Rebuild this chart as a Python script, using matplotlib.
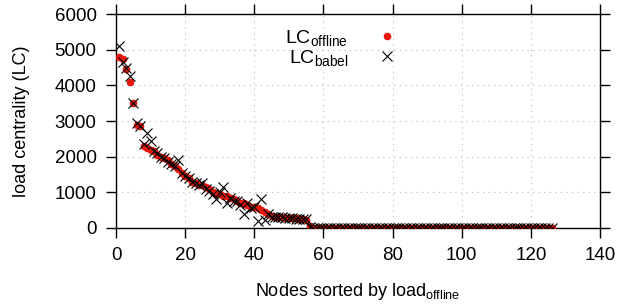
import numpy as np
import matplotlib
matplotlib.use("Agg")
import matplotlib.pyplot as plt

plt.rcParams['font.family'] = ['Liberation Sans', 'DejaVu Sans']
plt.rcParams['mathtext.fontset'] = 'custom'
plt.rcParams['mathtext.rm'] = 'Liberation Sans'
plt.rcParams['mathtext.it'] = 'Liberation Sans'

# load centrality of the nodes, sorted by offline load (nodes 1..126)
lc_offline_top = [4800, 4750, 4450, 4100, 3500, 2900, 2850, 2300, 2250, 2200,
                  2150, 2050, 2000, 1950, 1900, 1800, 1750, 1650, 1550, 1450,
                  1400, 1300, 1250, 1200, 1200, 1150, 1100, 1000, 950, 950,
                  900, 900, 850, 800, 750, 700, 700, 650, 600, 600,
                  550, 500, 450, 400, 350, 320, 310, 300, 290, 280,
                  270, 270, 260, 250, 230, 60]
lc_babel_top = [5100, 4650, 4500, 4250, 3500, 2950, 2850, 2350, 2650, 2450,
                2150, 2100, 2000, 1950, 1850, 1800, 1750, 1900, 1550, 1450,
                1400, 1300, 1250, 1200, 1250, 1100, 1050, 950, 800, 1000,
                1150, 700, 850, 750, 750, 650, 400, 700, 550, 600,
                200, 820, 220, 380, 300, 300, 300, 300, 280, 280,
                270, 260, 260, 250, 240, 40]
n_zero = 70

lc_offline = np.array(lc_offline_top + [0] * n_zero)
lc_babel = np.array(lc_babel_top + [0] * n_zero)
nodes = np.arange(1, len(lc_offline) + 1)

fig = plt.figure(figsize=(6.35, 3.05), dpi=100)
ax = fig.add_axes([0.1827, 0.2525, 0.7622, 0.7015])

ax.plot(nodes, lc_offline, 'o', color='#e8170b', markersize=5.5, markeredgewidth=0,
        label=r'LC$_{\mathrm{offline}}$', zorder=3)
ax.plot(nodes, lc_babel, 'x', color='black', markersize=7, markeredgewidth=0.8,
        label=r'LC$_{\mathrm{babel}}$', zorder=4)

ax.set_xlim(0, 140)
ax.set_ylim(0, 6000)
ax.set_xticks(range(0, 141, 20))
ax.set_yticks(range(0, 6001, 1000))
ax.tick_params(direction='out', length=7, width=1, labelsize=13.5,
               top=True, right=True, pad=7)
ax.grid(True, color='#b8b8b8', linestyle=(0, (1, 4)), linewidth=0.8)
for s in ax.spines.values():
    s.set_linewidth(1)

ax.set_xlabel(r'Nodes sorted by load$_{\mathrm{offline}}$', fontsize=13, labelpad=12)
ax.set_ylabel('load centrality (LC)', fontsize=13, labelpad=18)

ax.legend(loc='upper center', bbox_to_anchor=(0.475, 1.0), frameon=False,
          markerfirst=False, fontsize=14, handletextpad=1.0,
          labelspacing=0.0, borderaxespad=0.3)

fig.savefig("out.png", dpi=100)
